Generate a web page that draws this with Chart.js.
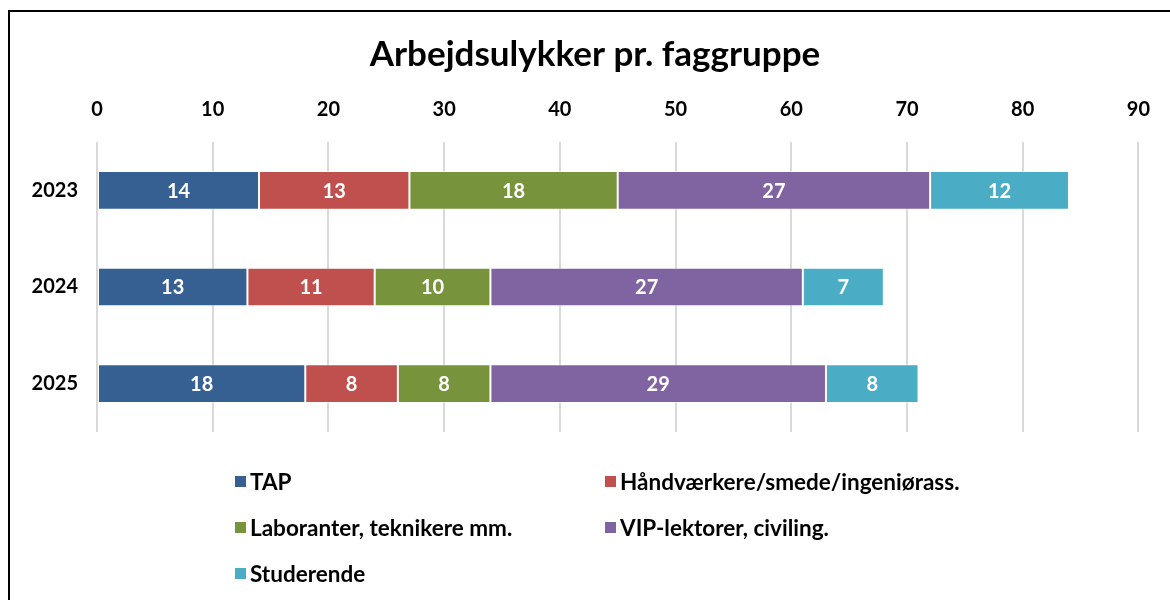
<!DOCTYPE html>
<html>
<head>
<meta charset="utf-8">
<script src="https://cdn.jsdelivr.net/npm/chart.js@4/dist/chart.umd.min.js"></script>
<style>
  html, body { margin: 0; padding: 0; background: #fff; }
  #wrap { position: relative; width: 1170px; height: 600px; overflow: hidden; font-family: Lato, "Open Sans", sans-serif; }
  #frame { position: absolute; left: 8px; top: 10px; width: 1200px; height: 700px; border-left: 2px solid #000; border-top: 2px solid #000; }
  #chart { position: absolute; left: 0; top: 0; }
  #legend { position: absolute; left: 235px; top: 468px; display: grid; grid-template-columns: 370px 400px; row-gap: 19px; }
  .item { display: flex; align-items: center; font-weight: bold; font-size: 22.5px; color: #000; height: 27px; }
  .box { width: 11px; height: 11px; margin-right: 4px; }
</style>
</head>
<body>
<div id="wrap">
  <div id="frame"></div>
  <canvas id="chart" width="1170" height="600"></canvas>
  <div id="legend"></div>
</div>
<script>
/* -------------------------------
   Data
--------------------------------*/
const years = ["2023", "2024", "2025"];
const seriesNames = [
  "TAP",
  "Håndværkere/smede/ingeniørass.",
  "Laboranter, teknikere mm.",
  "VIP-lektorer, civiling.",
  "Studerende"
];
const tap = [14, 13, 18];
const haandvaerkere = [13, 11, 8];
const laboranter = [18, 10, 8];
const vip = [27, 27, 29];
const studerende = [12, 7, 8];
const xTicks = [0, 10, 20, 30, 40, 50, 60, 70, 80, 90];

const colors = ["#376092", "#C0504D", "#77933C", "#8064A2", "#4BACC6"];
const seriesValues = [tap, haandvaerkere, laboranter, vip, studerende];

/* -------------------------------
   Value labels inside the bars
--------------------------------*/
const barLabels = {
  id: "barLabels",
  afterLayout(chart) {
    // centre the title on the whole framed box, not only the plot side
    if (chart.titleBlock) {
      chart.titleBlock.left = 20;
      chart.titleBlock.right = 1170;
    }
  },
  afterDatasetsDraw(chart) {
    const ctx = chart.ctx;
    ctx.save();
    ctx.fillStyle = "#fff";
    ctx.font = "bold 20px Lato, sans-serif";
    ctx.textAlign = "center";
    ctx.textBaseline = "middle";
    chart.data.datasets.forEach((ds, i) => {
      chart.getDatasetMeta(i).data.forEach((bar, j) => {
        const p = bar.getCenterPoint();
        ctx.fillText(String(ds.data[j]), p.x, p.y + 1);
      });
    });
    ctx.restore();
  }
};

const chart = new Chart(document.getElementById("chart"), {
  type: "bar",
  data: {
    labels: years,
    datasets: seriesNames.map((name, i) => ({
      label: name,
      data: seriesValues[i],
      backgroundColor: colors[i],
      borderColor: "rgba(255,255,255,0.55)",
      borderWidth: 1,
      borderSkipped: false,
      categoryPercentage: 1,
      barPercentage: 0.4
    }))
  },
  options: {
    indexAxis: "y",
    responsive: false,
    animation: false,
    layout: { padding: { left: 0, right: 27, top: 0, bottom: 168 } },
    plugins: {
      legend: { display: false },
      tooltip: { enabled: false },
      title: {
        display: true,
        text: "Arbejdsulykker pr. faggruppe",
        color: "#000",
        font: { family: "Lato, sans-serif", size: 35, weight: "bold", lineHeight: 1.2 },
        padding: { top: 34, bottom: 0 }
      }
    },
    scales: {
      x: {
        position: "top",
        stacked: true,
        min: 0,
        max: 90,
        afterBuildTicks: scale => { scale.ticks = xTicks.map(v => ({ value: v })); },
        afterFit: scale => { scale.height = 66; },
        border: { display: false },
        grid: { color: "#d9d9d9", lineWidth: 2, drawTicks: false },
        ticks: {
          color: "#000",
          padding: 20,
          font: { family: "Lato, sans-serif", size: 20, weight: "bold" }
        }
      },
      y: {
        stacked: true,
        afterFit: scale => { scale.width = 97; },
        border: { display: false },
        grid: { display: false },
        ticks: {
          color: "#000",
          padding: 11,
          font: { family: "Lato, sans-serif", size: 20, weight: "bold" }
        }
      }
    }
  },
  plugins: [barLabels]
});

/* -------------------------------
   Legend (two columns, like the original)
--------------------------------*/
const legend = document.getElementById("legend");
chart.data.datasets.forEach(ds => {
  const item = document.createElement("div");
  item.className = "item";
  item.innerHTML = `<span class="box" style="background:${ds.backgroundColor}"></span>${ds.label}`;
  legend.appendChild(item);
});
</script>
</body>
</html>
